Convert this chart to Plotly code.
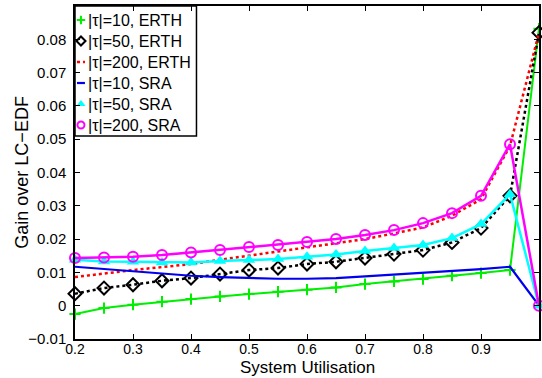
import plotly.graph_objects as go

x = [0.2, 0.25, 0.3, 0.35, 0.4, 0.45, 0.5, 0.55, 0.6, 0.65, 0.7, 0.75, 0.8, 0.85, 0.9, 0.95, 1.0]

erth_10 = [-0.0025, -0.0007, 0.0003, 0.0012, 0.0020, 0.0028, 0.0035, 0.0042, 0.0048, 0.0055, 0.0065, 0.0073, 0.0080, 0.0090, 0.0098, 0.0107, 0.0832]
erth_50 = [0.0036, 0.0053, 0.0063, 0.0075, 0.0083, 0.0095, 0.0107, 0.0113, 0.0125, 0.0132, 0.0143, 0.0155, 0.0167, 0.0190, 0.0233, 0.0330, 0.0820]
erth_200 = [0.0086, 0.0097, 0.0107, 0.0116, 0.0125, 0.0138, 0.0150, 0.0163, 0.0175, 0.0188, 0.0200, 0.0217, 0.0235, 0.0270, 0.0320, 0.0480, 0.0820]
sra_10 = [0.0117, 0.0110, 0.0102, 0.0095, 0.0090, 0.0086, 0.0083, 0.0081, 0.0081, 0.0083, 0.0088, 0.0093, 0.0098, 0.0103, 0.0110, 0.0117, 0.0000]
sra_50 = [0.0138, 0.0133, 0.0132, 0.0130, 0.0130, 0.0134, 0.0137, 0.0140, 0.0147, 0.0154, 0.0164, 0.0173, 0.0182, 0.0203, 0.0245, 0.0335, 0.0000]
sra_200 = [0.0143, 0.0145, 0.0147, 0.0152, 0.0160, 0.0167, 0.0176, 0.0182, 0.0191, 0.0200, 0.0212, 0.0227, 0.0248, 0.0278, 0.0330, 0.0485, 0.0000]

labels = ["|τ|=10, ERTH", "|τ|=50, ERTH", "|τ|=200, ERTH", "|τ|=10, SRA", "|τ|=50, SRA", "|τ|=200, SRA"]
x_ticks = [0.2, 0.3, 0.4, 0.5, 0.6, 0.7, 0.8, 0.9, 1.0]
x_ticktext = ["0.2", "0.3", "0.4", "0.5", "0.6", "0.7", "0.8", "0.9", "1"]
y_ticks = [-0.01, 0, 0.01, 0.02, 0.03, 0.04, 0.05, 0.06, 0.07, 0.08]
y_ticktext = ["−0.01", "0", "0.01", "0.02", "0.03", "0.04", "0.05", "0.06", "0.07", "0.08"]

FONT = "Liberation Sans, Arial, sans-serif"

styles = [
    dict(mode="lines+markers", line=dict(color="#00ee00", width=2),
         marker=dict(symbol="cross-thin", size=8, line=dict(color="#00ee00", width=2))),
    dict(mode="lines+markers", line=dict(color="black", width=2.5, dash="dot"),
         marker=dict(symbol="diamond-open", size=10, color="black", line=dict(width=2))),
    dict(mode="lines", line=dict(color="#ff0000", width=2.5, dash="dot")),
    dict(mode="lines", line=dict(color="#0000ee", width=2.2)),
    dict(mode="lines+markers", line=dict(color="#00ffff", width=2.5),
         marker=dict(symbol="triangle-up", size=11, color="#00ffff")),
    dict(mode="lines+markers", line=dict(color="#ff00ff", width=2.5),
         marker=dict(symbol="circle-open", size=10, color="#ff00ff", line=dict(width=2))),
]
series = [erth_10, erth_50, erth_200, sra_10, sra_50, sra_200]

fig = go.Figure()
for name, ys, st in zip(labels, series, styles):
    fig.add_trace(go.Scatter(x=x, y=ys, name=name, showlegend=False, cliponaxis=False, **st))

# ---- MATLAB-style legend drawn on an overlay axis measured in pixels ----
PW, PH = 466, 333  # plot area size in px
box_w, box_h = 122, 130
row_y = [14, 35, 56, 77, 98, 119]
fig.add_trace(go.Scatter(x=[0, box_w, box_w, 0, 0], y=[0, 0, box_h, box_h, 0],
                         xaxis="x2", yaxis="y2", mode="lines", fill="toself",
                         fillcolor="white", line=dict(color="black", width=1.5),
                         showlegend=False, hoverinfo="skip"))
for name, st, ry in zip(labels, styles, row_y):
    if st["mode"] == "lines":
        fig.add_trace(go.Scatter(x=[2, 10], y=[ry, ry], xaxis="x2", yaxis="y2",
                                 showlegend=False, hoverinfo="skip", **st))
    else:
        mk = dict(st["marker"])
        mk["size"] = max(6, mk["size"] - 3)
        fig.add_trace(go.Scatter(x=[6], y=[ry], xaxis="x2", yaxis="y2", mode="markers",
                                 marker=mk, showlegend=False, hoverinfo="skip"))
    fig.add_annotation(text=name, xref="x2", yref="y2", x=11, y=ry, xanchor="left",
                       yanchor="middle", showarrow=False,
                       font=dict(family=FONT, size=16, color="black"))

axis_common = dict(showline=True, linecolor="black", linewidth=1.5, mirror="allticks",
                   ticks="inside", ticklen=5, tickcolor="black", tickwidth=1,
                   showgrid=False, zeroline=False)

fig.update_layout(
    width=542, height=378,
    margin=dict(l=75, r=1, t=6, b=39),
    paper_bgcolor="white", plot_bgcolor="white",
    font=dict(family=FONT, size=15, color="black"),
    xaxis=dict(range=[0.2, 1.0], tickvals=x_ticks, ticktext=x_ticktext,
               tickfont=dict(family=FONT, size=14, color="black"), ticklabelstandoff=-4,
               **axis_common),
    yaxis=dict(range=[-0.01, 0.09], tickvals=y_ticks, ticktext=y_ticktext,
               tickfont=dict(family=FONT, size=15, color="black"), ticklabelstandoff=4,
               **axis_common),
    xaxis2=dict(range=[0, PW], overlaying="x", visible=False, fixedrange=True),
    yaxis2=dict(range=[PH, 0], overlaying="y", visible=False, fixedrange=True),
    showlegend=False,
)
fig.add_annotation(text="System Utilisation", xref="paper", yref="paper", x=0.5, y=-0.087,
                   xanchor="center", yanchor="middle", showarrow=False,
                   font=dict(family=FONT, size=17, color="black"))
fig.add_annotation(text="Gain over LC−EDF", xref="paper", yref="paper", x=-0.116, y=0.5,
                   xanchor="center", yanchor="middle", showarrow=False, textangle=-90,
                   font=dict(family=FONT, size=18, color="black"))

fig.write_html("out.html")
